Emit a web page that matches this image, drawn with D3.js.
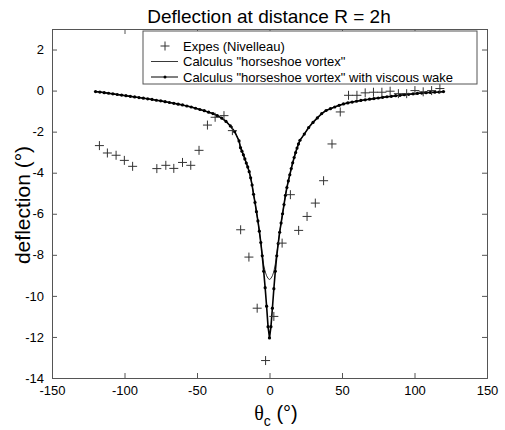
<!DOCTYPE html>
<html>
<head>
<meta charset="utf-8">
<script src="https://cdn.jsdelivr.net/npm/d3@7"></script>
<style>
  body { margin: 0; background: #fff; }
  svg { display: block; font-family: "Liberation Sans", Arial, sans-serif; }
</style>
</head>
<body>
<svg id="chart"></svg>
<script>
// Experimental points (Nivelleau)
const expX = [-117.3, -111.8, -105.8, -100.1, -94.4, -77.7, -71.5, -66.0, -60.0, -54.3,
  -48.6, -42.8, -37.5, -31.4, -25.6, -19.9, -14.2, -8.5, -2.7, 3.0,
  8.7, 14.4, 20.1, 25.9, 31.6, 37.3, 43.1, 48.8, 54.5, 60.3,
  66.0, 71.7, 77.5, 83.2, 88.9, 94.6, 100.3, 106.0, 111.8, 117.5];
const expY = [-2.68, -3.04, -3.15, -3.40, -3.69, -3.80, -3.64, -3.79, -3.50, -3.64,
  -2.91, -1.68, -1.30, -1.22, -1.95, -6.78, -8.11, -10.6, -13.15, -11.0,
  -7.43, -5.07, -6.81, -6.13, -5.48, -4.39, -2.60, -1.04, -0.23, -0.23,
  -0.11, -0.08, -0.08, -0.03, -0.15, -0.15, 0.0, -0.06, 0.0, 0.1];

// Model abscissae (deg)
const modelX = [-120, -117, -114, -111, -108, -105, -102, -99, -96, -93, -90, -87, -84, -81, -78, -75,
  -72, -69, -66, -63, -60, -57, -54, -51, -48, -45, -42, -39, -36, -33, -30, -27, -24, -21,
  -20, -19, -18, -17, -16, -15, -14, -13, -12, -11, -10, -9, -8, -7, -6, -5, -4, -3, -2, -1,
  0, 1, 2, 3, 4, 5, 6, 7, 8, 9, 10, 11, 12, 13, 14, 15, 16, 17, 18, 19, 20,
  21, 24, 27, 30, 33, 36, 39, 42, 45, 48, 51, 54, 57, 60, 63, 66, 69, 72, 75, 78, 81,
  84, 87, 90, 93, 96, 99, 102, 105, 108, 111, 114, 117, 120];

// "horseshoe vortex" with viscous wake
const viscousY = [-0.05, -0.07, -0.10, -0.13, -0.16, -0.19, -0.22, -0.25, -0.28, -0.31, -0.34, -0.37, -0.40, -0.43, -0.47, -0.50,
  -0.54, -0.58, -0.62, -0.66, -0.70, -0.75, -0.80, -0.86, -0.92, -0.98, -1.05, -1.12, -1.22, -1.34, -1.50, -1.72, -2.00, -2.45,
  -2.78, -2.95, -3.13, -3.33, -3.53, -3.72, -3.95, -4.25, -4.60, -5.05, -5.45, -5.90, -6.35, -6.85, -7.40, -8.05, -8.80, -9.60, -10.5, -11.5,
  -12.05, -11.5, -10.6, -9.65, -8.80, -8.05, -7.45, -6.90, -6.45, -6.00, -5.55, -5.10, -4.72, -4.40, -4.10, -3.80, -3.52, -3.26, -3.02, -2.80, -2.60,
  -2.42, -2.12, -1.80, -1.55, -1.33, -1.12, -0.97, -0.88, -0.80, -0.72, -0.65, -0.60, -0.56, -0.52, -0.48, -0.45, -0.42, -0.39, -0.36, -0.33, -0.30,
  -0.28, -0.25, -0.23, -0.20, -0.18, -0.16, -0.14, -0.12, -0.10, -0.09, -0.08, -0.07, -0.05];

// "horseshoe vortex" (inviscid)
const vortexY = [-0.05, -0.07, -0.10, -0.13, -0.16, -0.19, -0.22, -0.25, -0.28, -0.31, -0.34, -0.37, -0.40, -0.43, -0.47, -0.50,
  -0.54, -0.58, -0.62, -0.66, -0.70, -0.75, -0.80, -0.86, -0.92, -0.98, -1.05, -1.12, -1.22, -1.34, -1.50, -1.72, -2.00, -2.45,
  -2.78, -2.95, -3.13, -3.33, -3.53, -3.72, -3.95, -4.25, -4.60, -5.05, -5.45, -5.90, -6.35, -6.85, -7.40, -8.00, -8.50, -8.82, -9.02, -9.15,
  -9.20, -9.15, -9.02, -8.82, -8.45, -7.95, -7.45, -6.90, -6.45, -6.00, -5.55, -5.10, -4.72, -4.40, -4.10, -3.80, -3.52, -3.26, -3.02, -2.80, -2.60,
  -2.42, -2.12, -1.80, -1.55, -1.33, -1.12, -0.97, -0.88, -0.80, -0.72, -0.65, -0.60, -0.56, -0.52, -0.48, -0.45, -0.42, -0.39, -0.36, -0.33, -0.30,
  -0.28, -0.25, -0.23, -0.20, -0.18, -0.16, -0.14, -0.12, -0.10, -0.09, -0.08, -0.07, -0.05];

const xTicks = [-150, -100, -50, 0, 50, 100, 150];
const yTicks = [-14, -12, -10, -8, -6, -4, -2, 0, 2];
const legendLabels = ["Expes (Nivelleau)", "Calculus \"horseshoe vortex\"", "Calculus \"horseshoe vortex\" with viscous wake"];

const W = 505, H = 430;
const margin = { top: 29, right: 18, bottom: 52, left: 52 };
const width = W - margin.left - margin.right;
const height = H - margin.top - margin.bottom;

const svg = d3.select("#chart").attr("width", W).attr("height", H);
const g = svg.append("g").attr("transform", `translate(${margin.left},${margin.top})`);

const x = d3.scaleLinear().domain([-150, 150]).range([0, width]);
const y = d3.scaleLinear().domain([-14, 3]).range([height, 0]);

const axisColor = "#555";
const fmt = d => String(d).replace("\u2212", "-");

// Axes (MATLAB style box, ticks inside)
const xAxis = g.append("g").attr("transform", `translate(0,${height})`)
  .call(d3.axisBottom(x).tickValues(xTicks).tickSize(-5).tickPadding(8).tickFormat(fmt));
const xTop = g.append("g")
  .call(d3.axisTop(x).tickValues(xTicks).tickSize(-5).tickFormat(""));
const yAxis = g.append("g")
  .call(d3.axisLeft(y).tickValues(yTicks).tickSize(-5).tickPadding(8).tickFormat(fmt));
const yRight = g.append("g").attr("transform", `translate(${width},0)`)
  .call(d3.axisRight(y).tickValues(yTicks).tickSize(-5).tickFormat(""));

[xAxis, xTop, yAxis, yRight].forEach(a => {
  a.select(".domain").attr("stroke", axisColor);
  a.selectAll(".tick line").attr("stroke", axisColor);
  a.selectAll(".tick text").attr("fill", "#000").attr("font-size", 13)
    .attr("font-family", "Liberation Sans, Arial, sans-serif");
});

// Inviscid model line
const line = d3.line().x((d, i) => x(modelX[i])).y(d => y(d));
g.append("path").datum(vortexY)
  .attr("fill", "none").attr("stroke", "#222").attr("stroke-width", 0.9)
  .attr("d", line);

// Viscous model line with dots
g.append("path").datum(viscousY)
  .attr("fill", "none").attr("stroke", "#000").attr("stroke-width", 1.6)
  .attr("d", line);
g.selectAll(".vdot").data(viscousY).enter().append("circle")
  .attr("class", "vdot")
  .attr("cx", (d, i) => x(modelX[i]))
  .attr("cy", d => y(d))
  .attr("r", 1.6)
  .attr("fill", "#000");

// Experimental plus markers
const plus = (cx, cy, s) => `M${cx - s},${cy}H${cx + s}M${cx},${cy - s}V${cy + s}`;
g.selectAll(".exp").data(expY).enter().append("path")
  .attr("class", "exp")
  .attr("d", (d, i) => plus(x(expX[i]), y(d), 4.5))
  .attr("stroke", "#333").attr("stroke-width", 1).attr("fill", "none");

// Legend
const leg = svg.append("g");
leg.append("rect").attr("x", 143).attr("y", 31).attr("width", 334).attr("height", 53)
  .attr("fill", "#fff").attr("stroke", axisColor);
const rowY = [46, 61.5, 77];
leg.append("path").attr("d", plus(165, rowY[0], 4.5)).attr("stroke", "#333").attr("fill", "none");
leg.append("line").attr("x1", 151).attr("x2", 178).attr("y1", rowY[1]).attr("y2", rowY[1])
  .attr("stroke", "#222").attr("stroke-width", 0.9);
leg.append("line").attr("x1", 151).attr("x2", 178).attr("y1", rowY[2]).attr("y2", rowY[2])
  .attr("stroke", "#000").attr("stroke-width", 1);
leg.append("circle").attr("cx", 165).attr("cy", rowY[2]).attr("r", 1.5).attr("fill", "#000");
leg.selectAll(".lt").data(legendLabels).enter().append("text")
  .attr("x", 183).attr("y", (d, i) => rowY[i] + 4.5)
  .attr("font-size", 13).attr("fill", "#000").text(d => d);

// Title
svg.append("text").attr("x", 269).attr("y", 23).attr("text-anchor", "middle")
  .attr("font-size", 19).attr("fill", "#000").text("Deflection at distance R = 2h");

// Y label
svg.append("text").attr("transform", "translate(30,205) rotate(-90)")
  .attr("text-anchor", "middle").attr("font-size", 21).attr("fill", "#000")
  .text("deflection (\u00b0)");

// X label: theta_c (deg)
const xl = svg.append("text").attr("x", 276).attr("y", 420).attr("text-anchor", "middle")
  .attr("font-size", 20).attr("fill", "#000");
xl.append("tspan").attr("font-family", "Liberation Serif, Times New Roman, serif").text("\u03b8");
xl.append("tspan").attr("font-size", 14).attr("dy", 6).text("c");
xl.append("tspan").attr("dy", -6).text(" (\u00b0)");
</script>
</body>
</html>
